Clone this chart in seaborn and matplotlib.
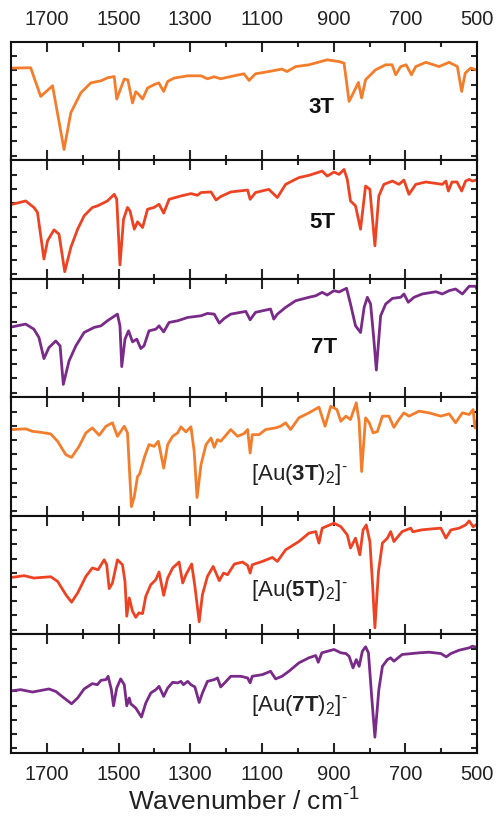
import numpy as np
import pandas as pd
import seaborn as sns
import matplotlib.pyplot as plt
from matplotlib.ticker import MultipleLocator, FixedLocator

sns.set_theme(style="ticks")
plt.rcParams['font.family'] = ['Liberation Sans', 'DejaVu Sans']
plt.rcParams['mathtext.fontset'] = 'custom'
plt.rcParams['mathtext.rm'] = 'Liberation Sans'
plt.rcParams['mathtext.it'] = 'Liberation Sans:italic'
plt.rcParams['mathtext.bf'] = 'Liberation Sans:bold'

# --- data (wavenumber / cm-1, transmittance in % of panel) ---
wn_3T = [1796, 1745, 1717, 1684, 1652, 1633, 1605, 1577, 1549, 1531, 1512, 1505, 1484, 1474,
         1461, 1452, 1443, 1433, 1419, 1401, 1388, 1374, 1363, 1345, 1307, 1270, 1252, 1233,
         1215, 1178, 1150, 1136, 1118, 1081, 1044, 1030, 1006, 969, 918, 885, 871, 857, 843,
         831, 822, 811, 783, 755, 737, 727, 713, 698, 683, 671, 643, 606, 578, 555, 543, 533,
         518, 496]
t_3T = [77.9, 78.2, 54.0, 63.0, 9.2, 40.3, 57.1, 65.5, 67.2, 69.7, 70.8, 51.8, 68.7, 68.0,
        48.5, 58.0, 55.5, 51.8, 61.1, 63.9, 65.5, 58.2, 66.6, 69.5, 71.4, 71.4, 68.9, 70.6,
        68.9, 71.4, 73.1, 67.5, 73.1, 75.0, 77.1, 75.0, 79.2, 80.7, 84.9, 83.4, 82.1, 49.8, 58.2,
        65.8, 52.7, 68.1, 76.5, 80.7, 80.7, 72.3, 79.2, 80.7, 72.3, 79.2, 82.8, 79.2, 82.8, 79.2,
        58.2, 73.7, 77.9, 75.9]

wn_5T = [1796, 1759, 1736, 1726, 1708, 1698, 1680, 1666, 1650, 1633, 1614, 1596, 1573, 1559,
         1531, 1512, 1505, 1496, 1486, 1475, 1468, 1456, 1447, 1433, 1419, 1401, 1387, 1374,
         1359, 1326, 1298, 1280, 1270, 1242, 1228, 1215, 1187, 1140, 1133, 1118, 1081, 1057,
         1034, 997, 969, 932, 918, 899, 885, 871, 862, 853, 839, 825, 811, 799, 785, 774, 760,
         736, 718, 704, 690, 671, 643, 617, 597, 587, 580, 570, 556, 543, 532, 522, 513, 496]
t_5T = [63.0, 65.8, 60.3, 56.1, 16.8, 32.2, 41.4, 37.8, 6.1, 26.6, 42.0, 53.2, 60.3, 61.6,
        65.8, 71.4, 67.2, 11.8, 50.4, 60.3, 57.4, 42.0, 48.2, 43.4, 58.8, 60.3, 63.0, 55.5,
        67.2, 70.0, 72.0, 70.6, 72.9, 73.4, 66.6, 69.5, 73.4, 75.0, 67.2, 72.9, 75.6, 68.7,
        79.8, 85.5, 87.4, 91.0, 86.8, 90.2, 88.2, 92.4, 84.0, 65.8, 61.6, 42.0, 78.4, 75.6,
        28.0, 70.0, 79.8, 82.6, 79.8, 83.4, 71.4, 79.8, 81.8, 80.7, 79.8, 82.6, 74.2, 81.8,
        81.8, 74.2, 82.6, 84.0, 82.6, 84.0]

wn_7T = [1796, 1759, 1736, 1722, 1708, 1694, 1675, 1663, 1654, 1638, 1619, 1596, 1568, 1549,
         1531, 1503, 1496, 1491, 1482, 1472, 1461, 1449, 1438, 1429, 1415, 1396, 1387, 1374,
         1359, 1335, 1307, 1270, 1252, 1233, 1219, 1205, 1187, 1145, 1133, 1118, 1076, 1067,
         1057, 1034, 1006, 969, 950, 932, 918, 899, 885, 864, 853, 839, 825, 815, 806, 797,
         788, 781, 769, 755, 736, 713, 704, 692, 676, 653, 615, 597, 578, 560, 541, 522, 504,
         496]
t_7T = [59.6, 61.9, 57.6, 50.6, 32.8, 42.1, 47.7, 43.5, 11.0, 30.8, 43.5, 54.8, 59.1, 60.4,
        64.7, 70.3, 60.4, 26.0, 49.2, 56.2, 46.9, 49.2, 41.3, 43.5, 56.2, 57.6, 60.4, 55.3,
        63.3, 64.7, 67.5, 68.9, 70.9, 70.3, 62.7, 66.7, 70.3, 72.6, 65.5, 71.8, 74.6, 66.1,
        70.3, 76.0, 81.6, 84.5, 85.8, 88.7, 86.4, 90.1, 89.0, 92.1, 78.8, 60.4, 54.8, 76.0,
        84.5, 78.8, 49.2, 23.1, 68.9, 78.8, 83.6, 84.5, 87.3, 80.3, 84.5, 87.3, 89.2, 87.3,
        90.1, 91.5, 87.3, 93.8, 93.8, 88.7]

wn_Au3T = [1796, 1759, 1740, 1717, 1689, 1670, 1647, 1631, 1610, 1591, 1573, 1554, 1535, 1517,
           1503, 1484, 1475, 1464, 1456, 1447, 1441, 1427, 1415, 1401, 1389, 1374, 1363, 1349,
           1335, 1326, 1312, 1298, 1289, 1281, 1270, 1256, 1242, 1233, 1224, 1215, 1187, 1168,
           1150, 1140, 1133, 1127, 1108, 1090, 1062, 1048, 1034, 1020, 997, 969, 941, 924, 908,
           891, 880, 866, 853, 837, 829, 822, 811, 801, 790, 778, 764, 746, 732, 718, 704, 690,
           662, 634, 601, 578, 560, 541, 522, 511, 506, 496]
t_Au3T = [72.9, 73.5, 71.4, 70.6, 69.2, 63.0, 51.7, 49.4, 58.7, 70.1, 74.3, 68.1, 75.7, 78.6,
          67.2, 75.7, 70.1, 7.9, 16.4, 33.3, 35.6, 50.3, 60.2, 58.7, 63.0, 40.4, 60.2, 67.2,
          70.1, 75.2, 70.9, 75.2, 54.5, 15.5, 43.2, 60.2, 65.8, 57.9, 64.4, 63.0, 72.9, 67.2,
          69.5, 72.9, 53.1, 68.6, 68.6, 72.9, 74.3, 75.7, 78.6, 72.9, 82.8, 87.0, 91.8, 75.7,
          92.6, 89.8, 79.9, 84.2, 81.4, 95.5, 79.7, 37.5, 82.8, 78.8, 70.1, 71.2, 84.2, 84.2,
          74.8, 81.4, 87.0, 84.2, 88.4, 87.0, 84.2, 86.2, 78.6, 87.0, 85.6, 89.8, 74.3, 84.2]

wn_Au5T = [1796, 1763, 1736, 1689, 1670, 1647, 1631, 1614, 1591, 1573, 1557, 1540, 1533, 1526,
           1517, 1503, 1489, 1482, 1477, 1470, 1461, 1452, 1443, 1433, 1424, 1410, 1396, 1387,
           1374, 1363, 1349, 1331, 1321, 1312, 1296, 1287, 1275, 1266, 1252, 1236, 1219, 1207,
           1196, 1177, 1154, 1140, 1133, 1127, 1099, 1071, 1057, 1034, 997, 969, 950, 941, 932,
           899, 880, 862, 853, 839, 827, 818, 809, 799, 792, 785, 775, 764, 750, 741, 732, 709,
           685, 679, 656, 625, 601, 587, 573, 550, 532, 522, 511, 496]
t_Au5T = [48.2, 49.6, 47.6, 48.7, 44.8, 33.6, 27.2, 35.0, 49.0, 56.1, 54.6, 63.0, 58.8, 38.7,
          43.4, 63.0, 58.8, 44.8, 15.4, 30.8, 19.6, 14.5, 18.2, 17.6, 32.2, 42.0, 46.2, 52.7,
          33.0, 47.6, 56.1, 61.1, 43.4, 50.4, 59.4, 40.6, 10.7, 33.6, 49.0, 57.4, 45.4, 51.8,
          50.4, 59.4, 61.1, 58.2, 51.8, 58.8, 61.6, 65.0, 61.6, 71.4, 78.4, 85.5, 86.8, 77.1,
          89.7, 93.9, 91.0, 84.0, 72.9, 81.3, 67.2, 88.2, 92.4, 78.4, 44.8, 5.6, 53.2, 77.1,
          81.3, 86.8, 78.4, 86.8, 89.7, 86.6, 88.2, 89.1, 89.7, 81.3, 88.2, 89.7, 92.4, 95.8,
          90.8, 93.9]

wn_Au7T = [1796, 1773, 1740, 1694, 1675, 1652, 1631, 1614, 1596, 1573, 1559, 1549, 1535, 1529,
           1520, 1514, 1505, 1494, 1484, 1477, 1470, 1466, 1452, 1436, 1424, 1410, 1396, 1387,
           1374, 1363, 1349, 1335, 1326, 1319, 1307, 1298, 1287, 1275, 1266, 1252, 1233, 1224,
           1215, 1204, 1187, 1159, 1140, 1133, 1127, 1099, 1076, 1062, 1044, 1025, 997, 969,
           950, 943, 933, 899, 880, 866, 857, 846, 837, 829, 820, 811, 803, 794, 785, 774, 764,
           750, 741, 732, 709, 681, 662, 634, 601, 586, 573, 550, 522, 513, 496]
t_Au7T = [52.5, 53.4, 51.4, 54.0, 51.9, 46.4, 41.5, 46.4, 54.0, 58.5, 57.6, 61.3, 61.9, 64.7,
          53.4, 39.8, 54.8, 62.5, 57.6, 39.8, 46.4, 41.5, 37.9, 30.3, 42.1, 50.6, 53.4, 56.2,
          47.7, 54.8, 59.6, 59.1, 60.4, 57.6, 60.4, 57.6, 55.7, 42.6, 50.6, 60.4, 61.9, 63.3,
          55.7, 59.1, 64.7, 64.7, 63.3, 59.1, 64.7, 66.1, 68.9, 62.5, 64.7, 68.9, 76.0, 80.3,
          82.2, 76.5, 84.5, 87.3, 84.5, 83.9, 81.6, 71.8, 78.8, 73.1, 85.8, 89.6, 84.5, 47.7,
          13.3, 53.4, 73.1, 78.8, 80.3, 77.4, 83.1, 83.9, 84.5, 85.0, 83.9, 81.1, 83.9, 86.7,
          88.7, 90.1, 88.7]

names = ["3T", "5T", "7T", "Au3T", "Au5T", "Au7T"]
wavenumbers = [wn_3T, wn_5T, wn_7T, wn_Au3T, wn_Au5T, wn_Au7T]
transmittance = [t_3T, t_5T, t_7T, t_Au3T, t_Au5T, t_Au7T]
panel_labels = ["3T", "5T", "7T",
                r"[Au($\mathbf{3T}$)$_2$]$^{\text{-}}$",
                r"[Au($\mathbf{5T}$)$_2$]$^{\text{-}}$",
                r"[Au($\mathbf{7T}$)$_2$]$^{\text{-}}$"]
label_pos = [(935, 45), (932, 48), (927, 42), (1130, 35), (1130, 37), (1130, 40)]
x_ticks = [1700, 1500, 1300, 1100, 900, 700, 500]

orange = "#F47D2C"
red = "#EE4323"
purple = "#7A2A88"
colors = [orange, red, purple, orange, red, purple]

# --- figure ---
fig, axes = plt.subplots(6, 1, figsize=(4.98, 8.22), dpi=100, sharex=True)
fig.subplots_adjust(left=0.022, right=0.958, top=0.949, bottom=0.084, hspace=0)

for i, ax in enumerate(axes):
    df = pd.DataFrame({"wn": wavenumbers[i], "T": transmittance[i]})
    sns.lineplot(data=df, x="wn", y="T", ax=ax, color=colors[i], lw=2.0, estimator=None)
    ax.set_xlim(1800, 500)
    ax.set_ylim(0, 100)
    ax.set_xlabel("")
    ax.set_ylabel("")
    ax.xaxis.set_major_locator(FixedLocator(x_ticks))
    ax.xaxis.set_minor_locator(MultipleLocator(100))
    ax.yaxis.set_major_locator(FixedLocator(np.arange(4, 100, 12)))
    ax.set_yticklabels([])
    ax.tick_params(axis="x", which="major", direction="in", length=7, width=1.5,
                   top=True, bottom=True, labelsize=14.5, pad=9, labelcolor="#222222")
    ax.tick_params(axis="x", which="minor", direction="in", length=3.5, width=1.5,
                   top=True, bottom=True)
    ax.tick_params(axis="y", which="major", direction="in", length=4, width=1.5,
                   left=True, right=True)
    for s in ax.spines.values():
        s.set_linewidth(1.5)
        s.set_color("#111111")
    ax.tick_params(labelbottom=(i == 5), labeltop=(i == 0))

    lx, ly = label_pos[i]
    if i < 3:
        ax.text(lx, ly, panel_labels[i], fontsize=16, fontweight="bold",
                ha="center", va="center", color="#111111")
    else:
        ax.text(lx, ly, panel_labels[i], fontsize=16, ha="left", va="center",
                color="#222222")

axes[-1].set_xlabel(r"Wavenumber / cm$^{\text{-}1}$", fontsize=19, labelpad=3,
                    color="#222222")

fig.savefig("out.png", dpi=100)
